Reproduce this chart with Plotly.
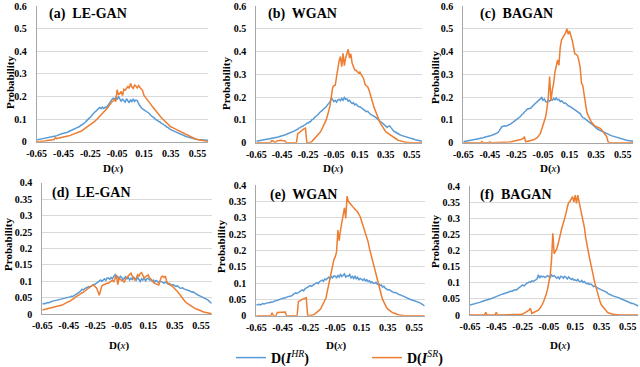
import plotly.graph_objs as go

# discriminator output bins, D(x)
bins = [round(-0.65 + 0.01 * i, 2) for i in range(129)]
tick_vals = [-0.65, -0.45, -0.25, -0.05, 0.15, 0.35, 0.55]
tick_text = ["-0.65", "-0.45", "-0.25", "-0.05", "0.15", "0.35", "0.55"]

# probabilities in per-mille, one value per bin
a_hr = [8, 9, 10, 11, 12, 13, 14, 15, 17, 18,
        20, 21, 22, 24, 25, 27, 30, 32, 34, 36,
        37, 38, 40, 42, 45, 47, 50, 53, 56, 59,
        61, 65, 67, 73, 75, 81, 84, 91, 95, 103,
        108, 117, 121, 129, 134, 141, 145, 151, 147, 153,
        147, 153, 150, 160, 170, 180, 186, 192, 188, 196,
        186, 200, 190, 178, 188, 182, 175, 190, 180, 172,
        186, 176, 190, 178, 184, 182, 168, 158, 150, 145,
        141, 134, 133, 127, 125, 117, 113, 107, 103, 97,
        95, 89, 87, 81, 79, 73, 71, 65, 63, 57,
        52, 50, 48, 45, 43, 40, 38, 35, 33, 30,
        26, 24, 22, 20, 18, 16, 15, 13, 12, 11,
        10, 9, 8, 8, 7, 7, 6, 6, 6]
a_sr = [0, 0, 1, 1, 2, 2, 3, 4, 5, 6,
        7, 8, 9, 10, 19, 13, 15, 16, 18, 19,
        20, 21, 22, 24, 26, 28, 30, 32, 34, 36,
        37, 40, 43, 46, 50, 54, 58, 62, 66, 70,
        74, 79, 84, 89, 94, 100, 106, 112, 118, 124,
        130, 136, 143, 150, 160, 170, 175, 180, 186, 178,
        230, 206, 212, 222, 204, 232, 228, 238, 244, 236,
        258, 242, 236, 250, 246, 238, 248, 240, 232, 226,
        205, 196, 188, 180, 175, 166, 158, 150, 145, 138,
        125, 118, 112, 106, 100, 94, 88, 82, 76, 70,
        66, 63, 60, 57, 54, 52, 49, 46, 43, 40,
        34, 31, 28, 25, 22, 19, 17, 15, 13, 11,
        10, 8, 6, 5, 3, 2, 1, 1, 0]

b_hr = [6, 7, 8, 9, 10, 11, 12, 13, 14, 15,
        16, 17, 18, 19, 21, 22, 24, 25, 27, 28,
        30, 32, 34, 36, 38, 40, 42, 45, 48, 51,
        53, 57, 59, 65, 66, 71, 72, 77, 79, 85,
        85, 91, 93, 101, 103, 111, 115, 121, 125, 133,
        136, 142, 148, 152, 158, 166, 174, 180, 196, 188,
        180, 186, 178, 188, 190, 184, 194, 186, 198, 190,
        192, 182, 186, 178, 172, 176, 166, 170, 162, 158,
        158, 154, 150, 146, 140, 136, 138, 130, 126, 122,
        120, 116, 112, 106, 104, 98, 92, 88, 82, 76,
        70, 68, 72, 74, 66, 58, 52, 48, 44, 40,
        38, 35, 32, 30, 28, 26, 24, 22, 20, 19,
        18, 16, 15, 13, 12, 10, 9, 7, 6]
b_sr = [0, 0, 0, 0, 0, 0, 0, 0, 0, 0,
        0, 0, 9, 8, 2, 3, 8, 10, 10, 11,
        10, 11, 9, 1, 0, 0, 0, 0, 0, 0,
        0, 0, 40, 45, 50, 54, 58, 62, 64, 0,
        0, 0, 2, 6, 12, 17, 22, 28, 34, 44,
        52, 62, 75, 88, 100, 118, 140, 165, 205, 242,
        250, 252, 290, 334, 360, 378, 334, 392, 338, 372,
        395, 410, 372, 390, 350, 335, 320, 318, 310, 306,
        310, 296, 290, 280, 256, 250, 246, 232, 210, 188,
        172, 155, 140, 122, 107, 96, 84, 74, 64, 56,
        48, 44, 40, 35, 30, 26, 22, 19, 16, 13,
        10, 8, 6, 4, 3, 2, 1, 1, 0, 0,
        0, 0, 0, 0, 0, 0, 0, 0, 0]

c_hr = [4, 5, 6, 7, 8, 9, 10, 11, 13, 14,
        15, 16, 17, 18, 20, 22, 24, 25, 27, 29,
        30, 32, 34, 36, 38, 41, 44, 52, 62, 70,
        72, 74, 72, 74, 76, 80, 84, 88, 94, 98,
        101, 104, 111, 115, 123, 127, 135, 139, 147, 149,
        148, 152, 160, 166, 172, 176, 182, 188, 194, 198,
        186, 192, 180, 178, 186, 182, 190, 186, 194, 188,
        196, 188, 190, 180, 184, 176, 172, 174, 166, 162,
        160, 156, 152, 150, 146, 140, 136, 132, 128, 118,
        110, 108, 104, 100, 96, 92, 88, 82, 76, 70,
        63, 60, 57, 54, 50, 48, 46, 43, 40, 37,
        34, 32, 30, 28, 26, 24, 22, 20, 19, 17,
        15, 14, 12, 11, 10, 9, 8, 7, 6]
c_sr = [0, 0, 0, 0, 0, 0, 0, 0, 0, 0,
        0, 0, 0, 0, 5, 0, 0, 0, 0, 0,
        4, 0, 0, 0, 0, 0, 0, 0, 0, 0,
        0, 1, 1, 2, 3, 3, 4, 5, 6, 7,
        8, 9, 10, 12, 15, 19, 26, 4, 5, 7,
        8, 9, 11, 13, 16, 19, 24, 32, 41, 58,
        78, 96, 114, 150, 200, 290, 183, 230, 260, 310,
        334, 363, 340, 420, 452, 462, 470, 482, 500, 476,
        490, 472, 450, 420, 390, 388, 382, 360, 330, 262,
        250, 210, 158, 135, 120, 104, 96, 86, 78, 74,
        71, 69, 66, 63, 58, 50, 45, 36, 26, 4,
        0, 0, 0, 0, 0, 0, 0, 0, 0, 0,
        0, 0, 0, 0, 0, 0, 0, 0, 0]

d_hr = [31, 33, 32, 35, 36, 35, 38, 39, 40, 41,
        42, 43, 42, 45, 46, 47, 48, 49, 50, 51,
        52, 53, 55, 54, 57, 59, 62, 64, 67, 71,
        76, 74, 78, 80, 82, 84, 83, 86, 88, 90,
        92, 95, 98, 101, 104, 100, 105, 108, 103, 110,
        110, 106, 112, 108, 115, 120, 110, 114, 108, 116,
        112, 105, 110, 114, 108, 112, 104, 110, 106, 113,
        109, 104, 112, 106, 100, 108, 104, 110, 102, 108,
        110, 104, 106, 100, 104, 98, 103, 100, 96, 101,
        100, 97, 94, 98, 96, 92, 94, 90, 88, 90,
        86, 84, 87, 82, 80, 79, 81, 77, 76, 74,
        74, 72, 70, 67, 68, 65, 62, 61, 58, 56,
        54, 53, 50, 48, 46, 44, 40, 36, 33]
d_sr = [13, 14, 14, 15, 15, 16, 17, 18, 19, 20,
        21, 22, 24, 25, 27, 28, 30, 33, 35, 37,
        38, 40, 42, 45, 48, 52, 54, 57, 60, 63,
        64, 67, 70, 73, 76, 79, 82, 86, 89, 88,
        85, 80, 70, 58, 72, 86, 89, 91, 93, 94,
        94, 97, 101, 104, 98, 112, 120, 90, 110, 106,
        104, 100, 98, 108, 112, 114, 120, 125, 116, 108,
        104, 110, 120, 116, 124, 127, 120, 110, 114, 118,
        120, 112, 106, 102, 97, 94, 92, 90, 89, 102,
        114, 116, 112, 116, 100, 94, 92, 89, 86, 82,
        79, 74, 70, 64, 58, 54, 48, 42, 38, 35,
        32, 29, 26, 23, 21, 19, 17, 15, 14, 12,
        9, 8, 7, 6, 5, 4, 3, 3, 2]

e_hr = [33, 34, 35, 33, 36, 37, 36, 38, 39, 40,
        40, 42, 41, 44, 45, 46, 47, 48, 51, 50,
        53, 55, 54, 57, 58, 60, 62, 61, 65, 67,
        70, 68, 72, 74, 77, 79, 76, 82, 85, 86,
        89, 92, 90, 94, 96, 99, 101, 98, 104, 106,
        109, 105, 112, 110, 114, 118, 112, 120, 116, 122,
        121, 115, 124, 118, 126, 120, 124, 128, 118, 122,
        121, 126, 116, 120, 114, 122, 112, 118, 110, 114,
        111, 108, 113, 106, 110, 104, 107, 101, 104, 99,
        99, 102, 96, 98, 92, 94, 88, 90, 84, 82,
        79, 80, 76, 74, 72, 70, 71, 68, 66, 64,
        63, 61, 58, 57, 55, 53, 51, 50, 48, 47,
        46, 45, 43, 42, 40, 38, 36, 33, 30]
e_sr = [0, 0, 0, 0, 0, 0, 0, 0, 0, 0,
        0, 0, 9, 0, 0, 0, 10, 10, 10, 10,
        11, 10, 11, 0, 0, 0, 0, 0, 0, 0,
        0, 0, 43, 46, 48, 50, 52, 54, 55, 0,
        0, 0, 0, 2, 4, 7, 10, 14, 17, 22,
        30, 40, 48, 55, 75, 94, 120, 140, 158, 172,
        180, 195, 262, 230, 262, 285, 310, 330, 298, 366,
        350, 344, 338, 334, 330, 326, 323, 318, 310, 303,
        290, 278, 266, 252, 240, 226, 206, 190, 172, 155,
        135, 119, 105, 90, 76, 64, 50, 40, 31, 25,
        20, 16, 13, 11, 9, 7, 5, 4, 3, 2,
        1, 1, 1, 0, 0, 0, 0, 0, 0, 0,
        0, 0, 0, 0, 0, 0, 0, 0, 0]

f_hr = [31, 32, 33, 35, 34, 36, 37, 39, 40, 42,
        43, 44, 46, 47, 48, 50, 51, 52, 54, 56,
        57, 58, 60, 62, 64, 65, 66, 68, 70, 71,
        72, 74, 73, 76, 78, 77, 80, 84, 86, 88,
        93, 90, 96, 98, 100, 103, 101, 106, 104, 108,
        109, 112, 125, 114, 121, 118, 120, 116, 119, 122,
        119, 116, 124, 120, 122, 116, 114, 118, 112, 120,
        119, 114, 120, 117, 112, 118, 115, 110, 113, 108,
        109, 106, 110, 104, 103, 107, 101, 104, 99, 97,
        98, 95, 96, 91, 88, 90, 86, 84, 82, 80,
        80, 77, 74, 72, 70, 66, 65, 63, 60, 59,
        59, 57, 55, 54, 52, 50, 48, 46, 44, 42,
        41, 40, 38, 36, 36, 34, 32, 30, 28]
f_sr = [0, 0, 0, 0, 0, 0, 0, 0, 0, 0,
        0, 0, 8, 0, 0, 0, 0, 0, 0, 0,
        8, 0, 0, 0, 0, 0, 0, 0, 0, 0,
        0, 1, 1, 2, 2, 2, 2, 2, 2, 2,
        3, 5, 7, 9, 12, 15, 21, 5, 7, 9,
        10, 12, 15, 20, 25, 33, 42, 52, 65, 80,
        98, 125, 170, 253, 190, 196, 205, 220, 240, 262,
        272, 285, 298, 315, 334, 348, 352, 360, 367, 350,
        372, 346, 372, 350, 330, 315, 295, 272, 240, 212,
        196, 175, 155, 135, 112, 98, 84, 66, 52, 40,
        31, 25, 19, 15, 11, 7, 5, 4, 3, 2,
        1, 1, 0, 0, 0, 0, 0, 0, 0, 0,
        0, 0, 0, 0, 0, 0, 0, 0, 0]

W, H = 640, 367
SERIF = "Liberation Serif, Times New Roman, serif"
BLUE = "#5B9BD5"
ORANGE = "#ED7D31"

# title, hr, sr, ymax, dtick, plot box (l, r, t, b) in px, title pos, ylabel pos, xlabel pos
panels = [
    ("(a)  LE-GAN", a_hr, a_sr, 0.6, 0.1, (36.7, 208.3, 6, 141.7), (47, 14), (10, 83), (113, 168)),
    ("(b)  WGAN", b_hr, b_sr, 0.6, 0.1, (256.3, 422, 6, 142.7), (266, 14), (226, 84), (333, 168)),
    ("(c)  BAGAN", c_hr, c_sr, 0.6, 0.1, (463.3, 633.3, 6, 142.7), (478, 14), (435, 78), (550, 168)),
    ("(d)  LE-GAN", d_hr, d_sr, 0.4, 0.05, (42.3, 211.7, 182.7, 314.3), (50, 193), (8, 245), (119, 345)),
    ("(e)  WGAN", e_hr, e_sr, 0.4, 0.05, (256.3, 424.7, 185, 315.7), (268, 195), (221, 247), (336, 345)),
    ("(f)  BAGAN", f_hr, f_sr, 0.4, 0.05, (470, 638.3, 186, 315), (478, 195), (435, 242), (560, 345)),
]

fig = go.Figure()
annotations = []

for k, (title, hr, sr, ymax, dtick, box, tpos, ypos, xpos) in enumerate(panels):
    n = "" if k == 0 else str(k + 1)
    l, r, t, b = box
    fig.add_trace(go.Scatter(
        x=bins, y=[v / 1000 for v in hr], mode="lines",
        name="<b>D(</b><b><i>I</i></b><sup><i>HR</i></sup><b>)</b>",
        line=dict(color=BLUE, width=1.5),
        xaxis="x" + n, yaxis="y" + n, showlegend=(k == 0)))
    fig.add_trace(go.Scatter(
        x=bins, y=[v / 1000 for v in sr], mode="lines",
        name="<b>D(</b><b><i>I</i></b><sup><i>SR</i></sup><b>)</b>",
        line=dict(color=ORANGE, width=1.5),
        xaxis="x" + n, yaxis="y" + n, showlegend=(k == 0)))

    fig.layout["xaxis" + n] = dict(
        domain=[l / W, r / W], anchor="y" + n, range=[-0.65, 0.63], automargin=False,
        tickvals=tick_vals, ticktext=tick_text, showgrid=False, zeroline=False,
        showline=True, linecolor="#A6A6A6", linewidth=1, ticks="",
        ticklabelstandoff=2,
        tickfont=dict(family=SERIF, size=10, color="black", weight="bold"))
    fig.layout["yaxis" + n] = dict(
        domain=[1 - b / H, 1 - t / H], anchor="x" + n, range=[0, ymax], dtick=dtick,
        automargin=False,
        showgrid=True, gridcolor="#D9D9D9", gridwidth=1, zeroline=False,
        showline=True, linecolor="#A6A6A6", linewidth=1, ticks="",
        ticklabelstandoff=7,
        tickfont=dict(family=SERIF, size=10, color="black", weight="bold"))

    annotations.append(dict(
        text="<b>" + title + "</b>", x=tpos[0] / W, y=1 - tpos[1] / H,
        xref="paper", yref="paper", xanchor="left", yanchor="middle", showarrow=False,
        font=dict(family=SERIF, size=14, color="black")))
    annotations.append(dict(
        text="<b>Probability</b>", x=ypos[0] / W, y=1 - ypos[1] / H, textangle=-90,
        xref="paper", yref="paper", xanchor="center", yanchor="middle", showarrow=False,
        font=dict(family=SERIF, size=11, color="black")))
    annotations.append(dict(
        text="<b>D(</b><i>x</i><b>)</b>", x=xpos[0] / W, y=1 - xpos[1] / H,
        xref="paper", yref="paper", xanchor="center", yanchor="middle", showarrow=False,
        font=dict(family=SERIF, size=11, color="black")))

fig.update_layout(
    width=W, height=H,
    margin=dict(l=0, r=0, t=0, b=0, autoexpand=False),
    plot_bgcolor="white", paper_bgcolor="white",
    annotations=annotations,
    showlegend=True,
    legend=dict(orientation="h", x=231 / W, y=1 - 358 / H, xanchor="left", yanchor="middle",
                font=dict(family=SERIF, size=14, color="black"),
                entrywidth=91, entrywidthmode="pixels", itemwidth=30,
                bgcolor="rgba(0,0,0,0)"),
)

# the page body has a default 8px margin; drop it so the figure fills the window
fig.write_html("out.html", config={"displayModeBar": False},
               post_script="document.body.style.margin='0';")
